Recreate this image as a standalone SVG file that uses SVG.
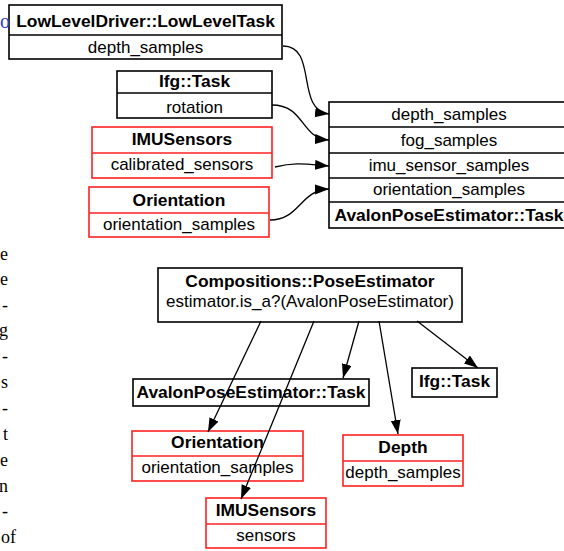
<svg xmlns="http://www.w3.org/2000/svg" width="564" height="551" viewBox="0 0 564 551">
<style>
  .bg { fill: #ffffff; }
  .box { fill: #ffffff; stroke: #000000; stroke-width: 1.6; }
  .rbox { fill: #ffffff; stroke: #ff2020; stroke-width: 1.6; }
  .div { stroke: #000000; stroke-width: 1.6; }
  .rdiv { stroke: #ff2020; stroke-width: 1.6; }
  .t { font-family: "Liberation Sans", Arial, sans-serif; font-size: 17px; fill: #000; text-anchor: middle; }
  .b { font-weight: bold; font-size: 17.4px; }
  .edge { fill: none; stroke: #000; stroke-width: 1.3; }
  .margin { font-family: "Liberation Serif", "Times New Roman", serif; font-size: 18px; fill: #000; text-anchor: end; }
</style>
<defs>
  <marker id="arrow" markerUnits="userSpaceOnUse" markerWidth="15" markerHeight="11" refX="14" refY="5" orient="auto">
    <path d="M0,0 L14,5 L0,10 z" fill="#000"/>
  </marker>
</defs>
<rect class="bg" x="0" y="0" width="564" height="551"/>

<g id="margin-text">
  <text class="margin" x="8" y="260">e</text>
  <text class="margin" x="8" y="285">e</text>
  <text class="margin" x="8" y="311">-</text>
  <text class="margin" x="8" y="336">g</text>
  <text class="margin" x="8" y="362">-</text>
  <text class="margin" x="8" y="388">s</text>
  <text class="margin" x="8" y="414">-</text>
  <text class="margin" x="8" y="440">t</text>
  <text class="margin" x="8" y="466">e</text>
  <text class="margin" x="8" y="492">n</text>
  <text class="margin" x="8" y="517">-</text>
  <text class="margin" x="16" y="543">of</text>
</g>

<g id="lowleveltask">
  <rect class="box" x="9" y="5" width="273" height="54"/>
  <line class="div" x1="9" y1="35" x2="282" y2="35"/>
  <text class="t b" x="145.5" y="27">LowLevelDriver::LowLevelTask</text>
  <text class="t" x="145.5" y="53">depth_samples</text>
</g>
<text x="0" y="28" font-family="Liberation Serif, serif" font-size="20" fill="#2a3fd0">o</text>

<g id="ifg-task-top">
  <rect class="box" x="117" y="71" width="155" height="47"/>
  <line class="div" x1="117" y1="93" x2="272" y2="93"/>
  <text class="t b" x="194.5" y="87">Ifg::Task</text>
  <text class="t" x="194.5" y="113">rotation</text>
</g>

<g id="imusensors-top">
  <rect class="rbox" x="92" y="127" width="180" height="51"/>
  <line class="rdiv" x1="92" y1="153" x2="272" y2="153"/>
  <text class="t b" x="182" y="145">IMUSensors</text>
  <text class="t" x="182" y="170">calibrated_sensors</text>
</g>

<g id="orientation-top">
  <rect class="rbox" x="89" y="187" width="180" height="50"/>
  <line class="rdiv" x1="89" y1="213" x2="269" y2="213"/>
  <text class="t b" x="179" y="206">Orientation</text>
  <text class="t" x="179" y="230">orientation_samples</text>
</g>

<g id="avalon-task-top">
  <rect class="box" x="329" y="102" width="240" height="126"/>
  <line class="div" x1="329" y1="127" x2="569" y2="127"/>
  <line class="div" x1="329" y1="153" x2="569" y2="153"/>
  <line class="div" x1="329" y1="178" x2="569" y2="178"/>
  <line class="div" x1="329" y1="202" x2="569" y2="202"/>
  <text class="t" x="449" y="120">depth_samples</text>
  <text class="t" x="449" y="146">fog_samples</text>
  <text class="t" x="449" y="171">imu_sensor_samples</text>
  <text class="t" x="449" y="195">orientation_samples</text>
  <text class="t b" x="449" y="221">AvalonPoseEstimator::Task</text>
</g>

<g id="pose-estimator">
  <rect class="box" x="158" y="268" width="304" height="54"/>
  <text class="t b" x="310" y="287">Compositions::PoseEstimator</text>
  <text class="t" x="310" y="307">estimator.is_a?(AvalonPoseEstimator)</text>
</g>

<g id="avalon-task-bottom">
  <rect class="box" x="133" y="379" width="236" height="27"/>
  <text class="t b" x="251" y="398">AvalonPoseEstimator::Task</text>
</g>

<g id="ifg-task-bottom">
  <rect class="box" x="412" y="368" width="85" height="29"/>
  <text class="t b" x="454.5" y="387">Ifg::Task</text>
</g>

<g id="orientation-bottom">
  <rect class="rbox" x="132" y="431" width="171" height="50"/>
  <line class="rdiv" x1="132" y1="456" x2="303" y2="456"/>
  <text class="t b" x="217.5" y="448">Orientation</text>
  <text class="t" x="217.5" y="473">orientation_samples</text>
</g>

<g id="depth-bottom">
  <rect class="rbox" x="343" y="435" width="120" height="51"/>
  <line class="rdiv" x1="343" y1="461" x2="463" y2="461"/>
  <text class="t b" x="403" y="453">Depth</text>
  <text class="t" x="403" y="478">depth_samples</text>
</g>

<g id="imusensors-bottom">
  <rect class="rbox" x="206" y="498" width="120" height="50"/>
  <line class="rdiv" x1="206" y1="524" x2="326" y2="524"/>
  <text class="t b" x="266" y="516">IMUSensors</text>
  <text class="t" x="266" y="541">sensors</text>
</g>

<g id="connectors">
  <path class="edge" d="M283,46 C318,46 295,110 329,114" marker-end="url(#arrow)"/>
  <path class="edge" d="M272,105 C305,105 300,138 329,140" marker-end="url(#arrow)"/>
  <path class="edge" d="M275,167 C295,162 305,164 329,166" marker-end="url(#arrow)"/>
  <path class="edge" d="M270,220 C300,220 300,190 329,189" marker-end="url(#arrow)"/>
  <path class="edge" d="M261,321 L208,432" marker-end="url(#arrow)"/>
  <path class="edge" d="M314,321 C292,376 265,440 241,499" marker-end="url(#arrow)"/>
  <path class="edge" d="M359,321 L343,378" marker-end="url(#arrow)"/>
  <path class="edge" d="M379,321 L398,434" marker-end="url(#arrow)"/>
  <path class="edge" d="M417,321 L478,368" marker-end="url(#arrow)"/>
</g>
</svg>
